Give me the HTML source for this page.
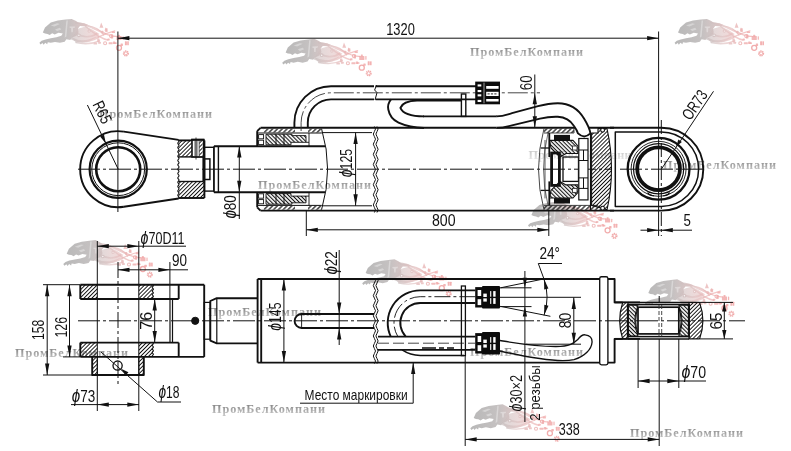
<!DOCTYPE html>
<html lang="ru"><head><meta charset="utf-8"><title>Гидроцилиндр</title>
<style>
html,body{margin:0;padding:0;background:#fff;}
body{width:791px;height:451px;overflow:hidden;}
svg{display:block;}
#wrap{width:791px;height:451px;will-change:transform;transform:translateZ(0);}
.dim{font-family:"Liberation Sans",sans-serif;}
.wm{font-family:"Liberation Serif",serif;font-weight:bold;}
</style></head><body><div id="wrap">
<svg width="791" height="451" viewBox="0 0 791 451">
<defs>
<pattern id="h1" width="2.8" height="2.8" patternUnits="userSpaceOnUse" patternTransform="rotate(-45)"><line x1="0" y1="1.4" x2="2.8" y2="1.4" stroke="#111" stroke-width="0.95"/></pattern>
<pattern id="h2" width="3.4" height="3.4" patternUnits="userSpaceOnUse" patternTransform="rotate(-45)"><line x1="0" y1="1.7" x2="3.4" y2="1.7" stroke="#111" stroke-width="1.2"/></pattern>
<pattern id="h3" width="2.8" height="2.8" patternUnits="userSpaceOnUse" patternTransform="rotate(45)"><line x1="0" y1="1.4" x2="2.8" y2="1.4" stroke="#111" stroke-width="1.1"/></pattern>
<linearGradient id="lg" gradientUnits="userSpaceOnUse" x1="0" y1="0" x2="92" y2="0"><stop offset="0" stop-color="#b2b2b2"/><stop offset="0.3" stop-color="#c0bcbc"/><stop offset="0.55" stop-color="#e2c4c4"/><stop offset="0.8" stop-color="#f0aaaa"/><stop offset="1" stop-color="#f09c9c"/></linearGradient>
<linearGradient id="wg" x1="0" y1="0" x2="0" y2="1"><stop offset="0.25" stop-color="#8c8c8c"/><stop offset="0.85" stop-color="#c4c4c4"/></linearGradient>
<symbol id="logo" overflow="visible"><path d="M3.8,13.5 L6.0,8.5 L11.8,3.5 L18.8,1.5 L26.4,0.6 L32.7,-0.1 L36.6,1.8 L39.9,4.0 L45.2,4.3 L49.4,6.0 L46.6,7.4 L41.0,7.1 L38.9,9.7 L39.6,13.2 L37.6,16.7 L32.7,18.8 L31.3,20.9 L27.4,20.2 L25.7,22.7 L20.9,23.8 L16.0,22.9 L11.8,23.8 L8.8,23.2 L8.2,25.2 L6.3,23.8 L4.6,25.7 L3.5,24.1 L1.5,25.5 L0.4,23.8 L2.6,21.8 L6.5,20.4 L11.8,19.2 L17.4,18.2 L22.3,16.8 L23.8,14.6 L19.5,13.8 L15.7,15.4 L13.2,14.3 L10.7,16.0 L8.5,14.9 L6.0,14.6 Z" fill="url(#lg)" opacity="0.92"/><path d="M11.8,6.5 L18.1,4.3 L20.9,4.9 L15.3,7.6 Z" fill="#fff" opacity="0.35"/><path d="M27.4,1.4 L28.8,1.4 L27.4,17.4 L25.7,18.8 Z" fill="#fff" opacity="0.35"/><path d="M30.6,7.6 L36.2,7.4 L35.7,8.8 L34.1,9.0 L33.8,13.2 L32.4,13.2 L32.1,9.0 L30.6,8.8 Z" fill="#fff" opacity="0.35"/><path d="M16.0,10.4 L20.9,8.8 L22.3,10.4 L18.1,12.1 Z" fill="#fff" opacity="0.35"/><path d="M32.7,18.8 L38.9,9.7 L46.6,7.4 L53.5,10.4 L60.5,14.9 L56.3,18.8 L50.8,22.3 L43.8,23.8 L36.9,23.5 Z" fill="url(#lg)" opacity="0.62"/><path d="M36.9,3.8 C46.6,4.3 56.3,10.4 66.1,14.6" fill="none" stroke="url(#lg)" stroke-width="2.0" stroke-linecap="round" opacity="0.7"/><path d="M66.1,14.6 C70.9,16.7 74.4,17.7 77.9,17.4" fill="none" stroke="url(#lg)" stroke-width="1.3" stroke-linecap="round" opacity="0.7"/><path d="M32.7,19.5 C41.0,24.3 50.8,22.3 59.1,18.1" fill="none" stroke="url(#lg)" stroke-width="2.4" stroke-linecap="round" opacity="0.7"/><path d="M59.1,18.1 C64.7,15.3 70.2,13.2 75.8,11.8" fill="none" stroke="url(#lg)" stroke-width="1.2" stroke-linecap="round" opacity="0.7"/><path d="M38.2,14.6 C43.8,18.8 52.2,18.8 57.7,14.6" fill="none" stroke="url(#lg)" stroke-width="1.6" stroke-linecap="round" opacity="0.7"/><path d="M46.6,7.4 C52.2,11.8 60.5,19.5 68.8,20.9" fill="none" stroke="url(#lg)" stroke-width="1.5" stroke-linecap="round" opacity="0.7"/><path d="M36.9,23.6 C46.6,25.7 54.9,24.3 60.5,21.8" fill="none" stroke="url(#lg)" stroke-width="1.4" stroke-linecap="round" opacity="0.7"/><path d="M49.4,7.0 C56.3,7.6 61.9,11.8 64.7,16.0" fill="none" stroke="url(#lg)" stroke-width="1.2" stroke-linecap="round" opacity="0.7"/><circle cx="39.9" cy="16.3" r="1.3" fill="#fff" stroke="url(#lg)" stroke-width="1.1" opacity="0.85"/><circle cx="50.1" cy="12.1" r="1.1" fill="#fff" stroke="url(#lg)" stroke-width="1.1" opacity="0.85"/><circle cx="72.0" cy="17.1" r="1.5" fill="#fff" stroke="url(#lg)" stroke-width="1.1" opacity="0.85"/><circle cx="66.1" cy="24.3" r="1.5" fill="#fff" stroke="url(#lg)" stroke-width="1.1" opacity="0.85"/><path d="M62.2,3.5 L64.4,8.8 L60.5,8.8 Z" fill="url(#lg)" opacity="0.8"/><path d="M66.8,8.3 L68.3,11.8 L65.5,11.8 Z" fill="url(#lg)" opacity="0.7"/><rect x="62.3" y="11.8" width="2.0" height="2.8" rx="0.5" fill="url(#lg)" opacity="0.8"/><rect x="59.1" y="22.8" width="2.8" height="2.0" rx="0.5" fill="url(#lg)" opacity="0.8"/><rect x="68.3" y="19.4" width="2.4" height="2.0" rx="0.5" fill="url(#lg)" opacity="0.8"/><rect x="66.2" y="9.3" width="2.4" height="3.6" rx="0.5" fill="url(#lg)" opacity="0.8"/><rect x="71.8" y="15.6" width="2.4" height="4.0" rx="0.5" fill="url(#lg)" opacity="0.8"/><rect x="77.4" y="17.0" width="5.2" height="4.0" rx="0.5" fill="url(#lg)" opacity="0.8"/><rect x="83.5" y="17.2" width="1.2" height="3.6" rx="0.5" fill="url(#lg)" opacity="0.8"/><rect x="75.3" y="23.3" width="2.4" height="1.6" rx="0.5" fill="url(#lg)" opacity="0.8"/><rect x="54.5" y="23.6" width="3.6" height="2.0" rx="0.5" fill="url(#lg)" opacity="0.8"/><rect x="58.2" y="19.5" width="2.4" height="3.6" rx="0.5" fill="url(#lg)" opacity="0.8"/><rect x="69.6" y="23.3" width="4.0" height="2.0" rx="0.5" fill="url(#lg)" opacity="0.8"/><rect x="73.9" y="22.6" width="2.4" height="2.4" rx="0.5" fill="url(#lg)" opacity="0.8"/><rect x="72.8" y="12.4" width="3.2" height="1.6" rx="0.5" fill="url(#lg)" opacity="0.8"/><rect x="85.9" y="22.3" width="2.0" height="4.0" rx="0.5" fill="url(#lg)" opacity="0.8"/><rect x="88.2" y="22.3" width="1.6" height="4.0" rx="0.5" fill="url(#lg)" opacity="0.8"/><rect x="81.5" y="24.5" width="2.4" height="2.4" rx="0.5" fill="url(#lg)" opacity="0.8"/><rect x="79.0" y="15.7" width="2.0" height="2.0" rx="0.5" fill="url(#lg)" opacity="0.8"/><circle cx="80.0" cy="28.8" r="2.5" fill="none" stroke="#f0a3a3" stroke-width="1.3" opacity="0.9"/><circle cx="86.9" cy="34.4" r="2.3" fill="none" stroke="#f0a3a3" stroke-width="1.5" stroke-dasharray="1.2 0.6" opacity="0.9"/><circle cx="86.9" cy="34.4" r="1.5" fill="none" stroke="#f0a3a3" stroke-width="0.8" opacity="0.9"/></symbol>
</defs>
<use href="#logo" x="0" y="0" transform="translate(39,19) scale(1.0)" opacity="1.0"/>
<use href="#logo" x="0" y="0" transform="translate(281.8,38.9) scale(1.0)" opacity="1.0"/>
<use href="#logo" x="0" y="0" transform="translate(674.2,19) scale(1.0)" opacity="1.0"/>
<use href="#logo" x="0" y="0" transform="translate(62.9,240.2) scale(1.0)" opacity="1.0"/>
<use href="#logo" x="0" y="0" transform="translate(361.8,259.4) scale(1.0)" opacity="1.0"/>
<use href="#logo" x="0" y="0" transform="translate(644.5,279.4) scale(1.0)" opacity="1.0"/>
<use href="#logo" x="0" y="0" transform="translate(469.9,404.4) scale(1.0)" opacity="1.0"/>
<use href="#logo" x="0" y="0" transform="translate(527.6,201.5) scale(1.0)" opacity="1.0"/>
<text x="99" y="118.2" class="wm" font-size="12.2" fill="url(#wg)" textLength="113" lengthAdjust="spacing" opacity="1">ПромБелКомпани</text>
<text x="470" y="56" class="wm" font-size="12.2" fill="url(#wg)" textLength="113" lengthAdjust="spacing" opacity="1">ПромБелКомпани</text>
<text x="258" y="188.6" class="wm" font-size="12.2" fill="url(#wg)" textLength="113" lengthAdjust="spacing" opacity="1">ПромБелКомпани</text>
<text x="663" y="168.6" class="wm" font-size="12.2" fill="url(#wg)" textLength="113" lengthAdjust="spacing" opacity="1">ПромБелКомпани</text>
<text x="528.5" y="158.5" class="wm" font-size="12.2" fill="url(#wg)" textLength="103" lengthAdjust="spacing" opacity="0.45">ПромБелКомпани</text>
<text x="208" y="316.4" class="wm" font-size="12.2" fill="url(#wg)" textLength="113" lengthAdjust="spacing" opacity="1">ПромБелКомпани</text>
<text x="15" y="357.1" class="wm" font-size="12.2" fill="url(#wg)" textLength="113" lengthAdjust="spacing" opacity="1">ПромБелКомпани</text>
<text x="212" y="413.3" class="wm" font-size="12.2" fill="url(#wg)" textLength="113" lengthAdjust="spacing" opacity="1">ПромБелКомпани</text>
<text x="470" y="355.6" class="wm" font-size="12.2" fill="url(#wg)" textLength="113" lengthAdjust="spacing" opacity="1">ПромБелКомпани</text>
<text x="630" y="437" class="wm" font-size="12.2" fill="url(#wg)" textLength="113" lengthAdjust="spacing" opacity="1">ПромБелКомпани</text>
<line x1="78.00" y1="169.20" x2="612.00" y2="169.20" stroke="#111" stroke-width="1.0" stroke-dasharray="22 3 3 3" stroke-linecap="butt"/>
<path d="M123.88,131.63 A38,38 0 1 0 123.88,206.77" fill="none" stroke="#111" stroke-width="1.9" stroke-linejoin="round" />
<line x1="123.88" y1="131.63" x2="178.60" y2="139.90" stroke="#111" stroke-width="1.9" stroke-linecap="butt"/>
<line x1="123.88" y1="206.77" x2="178.60" y2="198.50" stroke="#111" stroke-width="1.9" stroke-linecap="butt"/>
<circle cx="118.20" cy="169.20" r="28.60" fill="none" stroke="#111" stroke-width="2.2"/>
<circle cx="118.20" cy="169.20" r="26.40" fill="none" stroke="#111" stroke-width="1.0"/>
<circle cx="118.20" cy="169.20" r="22.00" fill="none" stroke="#111" stroke-width="2.6"/>
<path d="M178.40,140.40 L204.40,140.40 L204.40,156.90 L178.40,156.90 Z" fill="url(#h1)" stroke="none"/>
<line x1="178.40" y1="140.40" x2="204.40" y2="140.40" stroke="#111" stroke-width="1.9" stroke-linecap="butt"/>
<line x1="178.40" y1="156.90" x2="203.40" y2="156.90" stroke="#111" stroke-width="1.4" stroke-linecap="butt"/>
<path d="M178.40,198.00 L204.40,198.00 L204.40,181.50 L178.40,181.50 Z" fill="url(#h1)" stroke="none"/>
<line x1="178.40" y1="198.00" x2="204.40" y2="198.00" stroke="#111" stroke-width="1.9" stroke-linecap="butt"/>
<line x1="178.40" y1="181.50" x2="203.40" y2="181.50" stroke="#111" stroke-width="1.4" stroke-linecap="butt"/>
<line x1="204.40" y1="140.40" x2="204.40" y2="198.00" stroke="#111" stroke-width="1.9" stroke-linecap="butt"/>
<line x1="203.20" y1="156.90" x2="203.20" y2="181.50" stroke="#111" stroke-width="1.6" stroke-linecap="butt"/>
<path d="M178.40,139.90 Q179.60,140.99 178.40,142.07 Q177.20,143.16 178.40,144.24 Q179.60,145.33 178.40,146.41 Q177.20,147.50 178.40,148.58 Q179.60,149.67 178.40,150.75 Q177.20,151.84 178.40,152.92 Q179.60,154.01 178.40,155.09 Q177.20,156.18 178.40,157.26 Q179.60,158.35 178.40,159.43 Q177.20,160.52 178.40,161.60 Q179.60,162.69 178.40,163.77 Q177.20,164.86 178.40,165.94 Q179.60,167.03 178.40,168.11 Q177.20,169.20 178.40,170.29 Q179.60,171.37 178.40,172.46 Q177.20,173.54 178.40,174.63 Q179.60,175.71 178.40,176.80 Q177.20,177.88 178.40,178.97 Q179.60,180.05 178.40,181.14 Q177.20,182.22 178.40,183.31 Q179.60,184.39 178.40,185.48 Q177.20,186.56 178.40,187.65 Q179.60,188.73 178.40,189.82 Q177.20,190.90 178.40,191.99 Q179.60,193.07 178.40,194.16 Q177.20,195.24 178.40,196.33 Q179.60,197.41 178.40,198.50" fill="none" stroke="#111" stroke-width="1.1" stroke-linejoin="round" />
<rect x="192.00" y="139.60" width="11.60" height="17.30" fill="#fff" stroke="#111" stroke-width="1.6"/>
<line x1="191.20" y1="139.80" x2="204.40" y2="139.80" stroke="#111" stroke-width="2.0" stroke-linecap="butt"/>
<line x1="195.00" y1="140.00" x2="195.00" y2="156.90" stroke="#333" stroke-width="0.8" stroke-linecap="butt"/>
<line x1="197.00" y1="140.00" x2="197.00" y2="156.90" stroke="#333" stroke-width="0.8" stroke-linecap="butt"/>
<path d="M199.20,140.50 L202.60,140.50 L202.60,156.50 L199.20,156.50 Z" fill="url(#h1)" stroke="none"/>
<line x1="199.20" y1="140.00" x2="199.20" y2="156.90" stroke="#333" stroke-width="0.8" stroke-linecap="butt"/>
<line x1="196.00" y1="137.50" x2="196.00" y2="159.50" stroke="#111" stroke-width="0.8" stroke-linecap="butt"/>
<rect x="204.40" y="158.90" width="5.50" height="20.60" fill="none" stroke="#111" stroke-width="1.5"/>
<rect x="204.40" y="147.30" width="9.50" height="43.80" fill="none" stroke="#111" stroke-width="1.4"/>
<line x1="213.90" y1="146.20" x2="325.00" y2="146.20" stroke="#111" stroke-width="1.9" stroke-linecap="butt"/>
<line x1="213.90" y1="192.20" x2="325.00" y2="192.20" stroke="#111" stroke-width="1.9" stroke-linecap="butt"/>
<line x1="213.90" y1="146.20" x2="213.90" y2="192.20" stroke="#111" stroke-width="1.4" stroke-linecap="butt"/>
<line x1="218.40" y1="146.20" x2="218.40" y2="192.20" stroke="#111" stroke-width="1.4" stroke-linecap="butt"/>
<line x1="257.20" y1="131.10" x2="257.20" y2="146.20" stroke="#111" stroke-width="1.9" stroke-linecap="butt"/>
<line x1="257.20" y1="131.10" x2="260.50" y2="127.80" stroke="#111" stroke-width="1.9" stroke-linecap="butt"/>
<path d="M263.80,128.70 L295.00,128.70 L295.00,132.50 L263.80,132.50 Z" fill="url(#h2)" stroke="none"/>
<path d="M308.00,128.70 L321.50,128.70 L321.50,132.50 L308.00,132.50 Z" fill="url(#h2)" stroke="none"/>
<line x1="258.00" y1="133.00" x2="321.80" y2="133.00" stroke="#111" stroke-width="1.0" stroke-linecap="butt"/>
<path d="M266.00,134.20 L292.00,134.20 L292.00,135.60 L306.00,135.60 L306.00,142.30 L291.00,142.30 L291.00,144.80 L266.00,144.80 Z" fill="url(#h3)" stroke="none"/>
<path d="M266.00,134.20 L292.00,134.20 L292.00,135.60 L306.00,135.60 L306.00,142.30 L291.00,142.30 L291.00,144.80 L266.00,144.80 Z" fill="none" stroke="#111" stroke-width="0.9" stroke-linejoin="round" />
<line x1="276.00" y1="134.20" x2="276.00" y2="144.80" stroke="#111" stroke-width="0.9" stroke-linecap="butt"/>
<line x1="284.00" y1="134.20" x2="284.00" y2="144.80" stroke="#111" stroke-width="0.9" stroke-linecap="butt"/>
<rect x="258.60" y="134.60" width="5.00" height="4.20" fill="none" stroke="#111" stroke-width="0.9"/>
<rect x="258.60" y="140.20" width="5.00" height="4.40" fill="none" stroke="#111" stroke-width="0.9"/>
<line x1="306.00" y1="142.30" x2="309.00" y2="142.30" stroke="#111" stroke-width="0.9" stroke-linecap="butt"/>
<line x1="309.00" y1="133.00" x2="309.00" y2="146.20" stroke="#111" stroke-width="0.9" stroke-linecap="butt"/>
<line x1="260.50" y1="127.80" x2="614.00" y2="127.80" stroke="#111" stroke-width="1.9" stroke-linecap="butt"/>
<line x1="257.20" y1="207.30" x2="257.20" y2="192.20" stroke="#111" stroke-width="1.9" stroke-linecap="butt"/>
<line x1="257.20" y1="207.30" x2="260.50" y2="210.60" stroke="#111" stroke-width="1.9" stroke-linecap="butt"/>
<path d="M263.80,209.70 L295.00,209.70 L295.00,205.90 L263.80,205.90 Z" fill="url(#h2)" stroke="none"/>
<path d="M308.00,209.70 L321.50,209.70 L321.50,205.90 L308.00,205.90 Z" fill="url(#h2)" stroke="none"/>
<line x1="258.00" y1="205.40" x2="321.80" y2="205.40" stroke="#111" stroke-width="1.0" stroke-linecap="butt"/>
<path d="M266.00,204.20 L292.00,204.20 L292.00,202.80 L306.00,202.80 L306.00,196.10 L291.00,196.10 L291.00,193.60 L266.00,193.60 Z" fill="url(#h3)" stroke="none"/>
<path d="M266.00,204.20 L292.00,204.20 L292.00,202.80 L306.00,202.80 L306.00,196.10 L291.00,196.10 L291.00,193.60 L266.00,193.60 Z" fill="none" stroke="#111" stroke-width="0.9" stroke-linejoin="round" />
<line x1="276.00" y1="204.20" x2="276.00" y2="193.60" stroke="#111" stroke-width="0.9" stroke-linecap="butt"/>
<line x1="284.00" y1="204.20" x2="284.00" y2="193.60" stroke="#111" stroke-width="0.9" stroke-linecap="butt"/>
<rect x="258.60" y="199.60" width="5.00" height="4.20" fill="none" stroke="#111" stroke-width="0.9"/>
<rect x="258.60" y="193.80" width="5.00" height="4.40" fill="none" stroke="#111" stroke-width="0.9"/>
<line x1="306.00" y1="196.10" x2="309.00" y2="196.10" stroke="#111" stroke-width="0.9" stroke-linecap="butt"/>
<line x1="309.00" y1="205.40" x2="309.00" y2="192.20" stroke="#111" stroke-width="0.9" stroke-linecap="butt"/>
<line x1="260.50" y1="210.60" x2="614.00" y2="210.60" stroke="#111" stroke-width="1.9" stroke-linecap="butt"/>
<path d="M321.6,128.8 Q333.6,169.2 321.6,209.59999999999997" fill="none" stroke="#111" stroke-width="1.0" stroke-linejoin="round" />
<path d="M374.40,126.50 Q376.60,129.03 374.40,131.56 Q372.20,134.09 374.40,136.62 Q376.60,139.15 374.40,141.68 Q372.20,144.21 374.40,146.74 Q376.60,149.26 374.40,151.79 Q372.20,154.32 374.40,156.85 Q376.60,159.38 374.40,161.91 Q372.20,164.44 374.40,166.97 Q376.60,169.50 374.40,172.03 Q372.20,174.56 374.40,177.09 Q376.60,179.62 374.40,182.15 Q372.20,184.68 374.40,187.21 Q376.60,189.74 374.40,192.26 Q372.20,194.79 374.40,197.32 Q376.60,199.85 374.40,202.38 Q372.20,204.91 374.40,207.44 Q376.60,209.97 374.40,212.50" fill="none" stroke="#111" stroke-width="1.0" stroke-linejoin="round" />
<path d="M377.00,126.50 Q379.20,129.03 377.00,131.56 Q374.80,134.09 377.00,136.62 Q379.20,139.15 377.00,141.68 Q374.80,144.21 377.00,146.74 Q379.20,149.26 377.00,151.79 Q374.80,154.32 377.00,156.85 Q379.20,159.38 377.00,161.91 Q374.80,164.44 377.00,166.97 Q379.20,169.50 377.00,172.03 Q374.80,174.56 377.00,177.09 Q379.20,179.62 377.00,182.15 Q374.80,184.68 377.00,187.21 Q379.20,189.74 377.00,192.26 Q374.80,194.79 377.00,197.32 Q379.20,199.85 377.00,202.38 Q374.80,204.91 377.00,207.44 Q379.20,209.97 377.00,212.50" fill="none" stroke="#111" stroke-width="1.0" stroke-linejoin="round" />
<path d="M376.6,85.2 L374.6,90 L377,92.6 L375,100" fill="none" stroke="#111" stroke-width="1.0" stroke-linejoin="round" />
<path d="M294.4,127.8 L294.4,122.80 A36.60,36.60 0 0 1 331,86.2 L374,86.2" fill="none" stroke="#111" stroke-width="1.9" stroke-linejoin="round" />
<path d="M307.8,127.8 L307.8,122.60 A23.20,23.20 0 0 1 331,99.4 L374,99.4" fill="none" stroke="#111" stroke-width="1.9" stroke-linejoin="round" />
<path d="M301.1,131 L301.1,122.70 A29.90,29.90 0 0 1 331,92.80 L540,92.80" fill="none" stroke="#333" stroke-width="0.9" stroke-dasharray="20 3 3 3" stroke-linejoin="round" />
<line x1="375.50" y1="86.20" x2="476.00" y2="86.20" stroke="#111" stroke-width="1.9" stroke-linecap="butt"/>
<line x1="375.50" y1="99.40" x2="476.00" y2="99.40" stroke="#111" stroke-width="1.9" stroke-linecap="butt"/>
<rect x="475.2" y="81.6" width="24.8" height="22.7" fill="#0c0c0c"/>
<rect x="477.6" y="84.4" width="3.7" height="2.1" fill="#fff"/>
<rect x="477.6" y="90" width="3.7" height="2.1" fill="#fff"/>
<rect x="477.6" y="94.3" width="3.7" height="2.1" fill="#fff"/>
<rect x="477.6" y="99.9" width="3.7" height="2.1" fill="#fff"/>
<rect x="483.2" y="82.6" width="1.6" height="20.7" fill="#666"/>
<rect x="486.2" y="86" width="12.4" height="2.8" fill="#fff"/>
<rect x="486.2" y="91.8" width="12.4" height="4.2" fill="#fff"/>
<rect x="486.2" y="99" width="12.4" height="2.5" fill="#fff"/>
<line x1="487.50" y1="93.90" x2="497.50" y2="93.90" stroke="#111" stroke-width="0.9" stroke-dasharray="2.2 1.2" stroke-linecap="butt"/>
<path d="M391,99.3 C388,103 387.6,106 388.3,109.5 C389.5,116 393,120 398.5,122.6 C406,126 414,127.8 424,128" fill="none" stroke="#111" stroke-width="1.9" stroke-linejoin="round" />
<path d="M461.4,100.5 L417,100.5 C408,100.8 402,103.5 400.4,107.8 C402.5,113 410,116.2 424,116.4" fill="none" stroke="#111" stroke-width="1.9" stroke-linejoin="round" />
<line x1="423.00" y1="116.40" x2="497.00" y2="116.40" stroke="#111" stroke-width="1.9" stroke-linecap="butt"/>
<rect x="461.40" y="94.00" width="4.40" height="22.40" fill="none" stroke="#111" stroke-width="1.4"/>
<path d="M544,128.5 Q533,169.2 544,209.89999999999998" fill="none" stroke="#333" stroke-width="0.9" stroke-linejoin="round" />
<path d="M548,133 Q539,169.2 548,205.39999999999998" fill="none" stroke="#333" stroke-width="0.7" stroke-linejoin="round" />
<path d="M544.00,128.50 L574.00,128.50 L574.00,133.00 L544.00,133.00 Z" fill="url(#h2)" stroke="none"/>
<line x1="544.00" y1="133.00" x2="574.00" y2="133.00" stroke="#333" stroke-width="0.9" stroke-linecap="butt"/>
<line x1="574.00" y1="128.00" x2="574.00" y2="133.00" stroke="#333" stroke-width="0.9" stroke-linecap="butt"/>
<rect x="554" y="134.90" width="16" height="5.4" fill="#111"/>
<path d="M549.50,140.40 L573.00,140.40 L578.00,146.00 L578.00,153.50 L566.00,153.50 L560.00,157.00 L551.00,148.00 Z" fill="url(#h3)" stroke="none"/>
<path d="M549.50,140.40 L573.00,140.40 L578.00,146.00 L578.00,153.50 L566.00,153.50 L560.00,157.00 L551.00,148.00 Z" fill="none" stroke="#111" stroke-width="1.1" stroke-linejoin="round" />
<rect x="572.50" y="146.00" width="4.50" height="4.00" fill="#fff" stroke="#333" stroke-width="0.9"/>
<line x1="549.30" y1="133.00" x2="549.30" y2="157.00" stroke="#111" stroke-width="1.8" stroke-linecap="butt"/>
<line x1="540.60" y1="148.00" x2="549.00" y2="148.00" stroke="#111" stroke-width="1.3" stroke-linecap="butt"/>
<path d="M544.00,209.90 L574.00,209.90 L574.00,205.40 L544.00,205.40 Z" fill="url(#h2)" stroke="none"/>
<line x1="544.00" y1="205.40" x2="574.00" y2="205.40" stroke="#333" stroke-width="0.9" stroke-linecap="butt"/>
<line x1="574.00" y1="210.40" x2="574.00" y2="205.40" stroke="#333" stroke-width="0.9" stroke-linecap="butt"/>
<rect x="554" y="198.10" width="16" height="5.4" fill="#111"/>
<path d="M549.50,198.00 L573.00,198.00 L578.00,192.40 L578.00,184.90 L566.00,184.90 L560.00,181.40 L551.00,190.40 Z" fill="url(#h3)" stroke="none"/>
<path d="M549.50,198.00 L573.00,198.00 L578.00,192.40 L578.00,184.90 L566.00,184.90 L560.00,181.40 L551.00,190.40 Z" fill="none" stroke="#111" stroke-width="1.1" stroke-linejoin="round" />
<rect x="572.50" y="188.40" width="4.50" height="4.00" fill="#fff" stroke="#333" stroke-width="0.9"/>
<line x1="549.30" y1="205.40" x2="549.30" y2="181.40" stroke="#111" stroke-width="1.8" stroke-linecap="butt"/>
<line x1="540.60" y1="190.40" x2="549.00" y2="190.40" stroke="#111" stroke-width="1.3" stroke-linecap="butt"/>
<path d="M574.00,209.90 L602.00,209.90 L602.00,205.40 L574.00,205.40 Z" fill="url(#h2)" stroke="none"/>
<line x1="574.00" y1="205.40" x2="598.00" y2="205.40" stroke="#333" stroke-width="0.9" stroke-linecap="butt"/>
<rect x="551.60" y="153.00" width="7.80" height="32.40" fill="none" stroke="#111" stroke-width="2.8"/>
<rect x="563.00" y="157.00" width="15.50" height="24.40" fill="none" stroke="#111" stroke-width="1.3"/>
<line x1="545.00" y1="140.00" x2="545.00" y2="198.40" stroke="#333" stroke-width="0.8" stroke-linecap="butt"/>
<rect x="578.80" y="138.50" width="9.20" height="61.40" fill="#fff" stroke="#111" stroke-width="1.2"/>
<line x1="578.80" y1="150.00" x2="588.00" y2="150.00" stroke="#111" stroke-width="1.0" stroke-linecap="butt"/>
<line x1="578.80" y1="160.50" x2="588.00" y2="160.50" stroke="#111" stroke-width="1.0" stroke-linecap="butt"/>
<line x1="578.80" y1="177.90" x2="588.00" y2="177.90" stroke="#111" stroke-width="1.0" stroke-linecap="butt"/>
<line x1="578.80" y1="188.40" x2="588.00" y2="188.40" stroke="#111" stroke-width="1.0" stroke-linecap="butt"/>
<line x1="583.50" y1="150.00" x2="583.50" y2="160.50" stroke="#111" stroke-width="1" stroke-linecap="butt"/>
<line x1="583.50" y1="177.90" x2="583.50" y2="188.40" stroke="#111" stroke-width="1" stroke-linecap="butt"/>
<line x1="590.50" y1="133.00" x2="590.50" y2="209.90" stroke="#111" stroke-width="1.1" stroke-linecap="butt"/>
<path d="M591.6,133 L591.6,205.39999999999998 L607,209.79999999999998 Q616,169.2 607,128.6 L598,128.6 L598,133 Z" fill="url(#h1)" stroke="none"/>
<path d="M591.6,133 L591.6,205.39999999999998 L607,209.79999999999998 Q616,169.2 607,128.6 L598,128.6 L598,133 Z" fill="none" stroke="#111" stroke-width="1.1" stroke-linejoin="round" />
<circle cx="602.60" cy="130.20" r="1.90" fill="#fff" stroke="#111" stroke-width="1.1"/>
<circle cx="602.60" cy="208.20" r="1.90" fill="#fff" stroke="#111" stroke-width="1.1"/>
<path d="M496.5,116.4 C503,116.4 506,115 512,113.2 L538,106.2 C546,104 551,103.2 557.8,103.2 C570,103.4 579,110 584,118.5 C588,125 589.8,129 590.4,133.4 Q584.2,139 578,133.4 C577.5,131.5 576.5,129.5 574,126 C570.5,120.5 565,117.2 557.8,116.8 C552,116.6 547,117 540,118.6 L512,125.4 C506,127 503,127.8 496.5,127.8 Z" fill="#fff" stroke="none"/>
<path d="M496.5,116.4 C503,116.4 506,115 512,113.2 L538,106.2 C546,104 551,103.2 557.8,103.2 C570,103.4 579,110 584,118.5 C588,125 589.8,129 590.4,133.4 Q584.2,139.4 578,133.4 C577.5,131.5 576.5,129.5 574,126 C570.5,120.5 565,117.2 557.8,116.8 C552,116.6 547,117 540,118.6 L512,125.4 C506,127 503,127.8 496.5,127.8" fill="none" stroke="#111" stroke-width="1.9" stroke-linejoin="round" />
<path d="M610,127.8 L661.3,127.8 A42.0,41.4 0 0 1 661.3,210.59999999999997 L610,210.59999999999997" fill="none" stroke="#111" stroke-width="1.9" stroke-linejoin="round" />
<path d="M661.3,131.89999999999998 L615.3,131.89999999999998 L615.3,206.5 L661.3,206.5 A37.3,37.3 0 0 0 661.3,131.89999999999998" fill="none" stroke="#111" stroke-width="1.5" stroke-linejoin="round" />
<circle cx="658.60" cy="168.80" r="30.90" fill="none" stroke="#111" stroke-width="2.3"/>
<circle cx="658.60" cy="168.80" r="27.50" fill="none" stroke="#111" stroke-width="0.9"/>
<circle cx="658.60" cy="168.80" r="25.10" fill="none" stroke="#111" stroke-width="1.2"/>
<circle cx="658.60" cy="168.80" r="21.40" fill="none" stroke="#111" stroke-width="3.8"/>
<path d="M647.5,192.6 Q650,196.2 654,195.6 M669.7,192.6 Q667.2,196.2 663.2,195.6" fill="none" stroke="#111" stroke-width="1.1" stroke-linejoin="round" />
<line x1="658.60" y1="31.50" x2="658.60" y2="236.00" stroke="#111" stroke-width="1.0" stroke-linecap="butt"/>
<line x1="661.30" y1="120.00" x2="661.30" y2="236.00" stroke="#111" stroke-width="1.0" stroke-dasharray="14 3 3 3" stroke-linecap="butt"/>
<line x1="620.00" y1="169.20" x2="705.00" y2="169.20" stroke="#111" stroke-width="1.0" stroke-dasharray="22 3 3 3" stroke-linecap="butt"/>
<line x1="78.00" y1="320.80" x2="745.00" y2="320.80" stroke="#111" stroke-width="1.0" stroke-dasharray="22 3 3 3" stroke-linecap="butt"/>
<path d="M80.30,284.70 L97.30,284.70 L97.30,299.00 L80.30,299.00 Z" fill="url(#h1)" stroke="none"/>
<path d="M138.80,284.70 L152.60,284.70 L152.60,299.00 L138.80,299.00 Z" fill="url(#h1)" stroke="none"/>
<line x1="80.30" y1="284.70" x2="204.20" y2="284.70" stroke="#111" stroke-width="1.9" stroke-linecap="butt"/>
<line x1="80.30" y1="299.00" x2="178.70" y2="299.00" stroke="#111" stroke-width="1.9" stroke-linecap="butt"/>
<line x1="80.30" y1="284.70" x2="80.30" y2="299.00" stroke="#111" stroke-width="1.9" stroke-linecap="butt"/>
<line x1="178.70" y1="284.70" x2="178.70" y2="299.00" stroke="#111" stroke-width="1.9" stroke-linecap="butt"/>
<path d="M80.30,356.90 L97.30,356.90 L97.30,342.60 L80.30,342.60 Z" fill="url(#h1)" stroke="none"/>
<path d="M138.80,356.90 L152.60,356.90 L152.60,342.60 L138.80,342.60 Z" fill="url(#h1)" stroke="none"/>
<line x1="80.30" y1="356.90" x2="204.20" y2="356.90" stroke="#111" stroke-width="1.9" stroke-linecap="butt"/>
<line x1="80.30" y1="342.60" x2="178.70" y2="342.60" stroke="#111" stroke-width="1.9" stroke-linecap="butt"/>
<line x1="80.30" y1="356.90" x2="80.30" y2="342.60" stroke="#111" stroke-width="1.9" stroke-linecap="butt"/>
<line x1="178.70" y1="356.90" x2="178.70" y2="342.60" stroke="#111" stroke-width="1.9" stroke-linecap="butt"/>
<path d="M152.80,284.70 Q154.00,285.59 152.80,286.49 Q151.60,287.38 152.80,288.28 Q154.00,289.17 152.80,290.06 Q151.60,290.96 152.80,291.85 Q154.00,292.74 152.80,293.64 Q151.60,294.53 152.80,295.43 Q154.00,296.32 152.80,297.21 Q151.60,298.11 152.80,299.00" fill="none" stroke="#111" stroke-width="1.1" stroke-linejoin="round" />
<path d="M152.80,342.60 Q154.00,343.49 152.80,344.39 Q151.60,345.28 152.80,346.18 Q154.00,347.07 152.80,347.96 Q151.60,348.86 152.80,349.75 Q154.00,350.64 152.80,351.54 Q151.60,352.43 152.80,353.33 Q154.00,354.22 152.80,355.11 Q151.60,356.01 152.80,356.90" fill="none" stroke="#111" stroke-width="1.1" stroke-linejoin="round" />
<line x1="204.20" y1="284.70" x2="204.20" y2="356.90" stroke="#111" stroke-width="1.9" stroke-linecap="butt"/>
<line x1="170.00" y1="299.00" x2="170.00" y2="342.60" stroke="#111" stroke-width="1.2" stroke-linecap="butt"/>
<line x1="172.50" y1="299.00" x2="172.50" y2="342.60" stroke="#111" stroke-width="1.2" stroke-linecap="butt"/>
<path d="M92.20,356.90 L97.30,356.90 L97.30,375.00 L92.20,375.00 Z" fill="url(#h1)" stroke="none"/>
<path d="M138.80,356.90 L143.80,356.90 L143.80,375.00 L138.80,375.00 Z" fill="url(#h1)" stroke="none"/>
<path d="M92.20,356.90 L92.20,375.00 L143.80,375.00 L143.80,356.90" fill="none" stroke="#111" stroke-width="1.9" stroke-linejoin="round" />
<line x1="97.30" y1="356.90" x2="97.30" y2="375.00" stroke="#111" stroke-width="1.0" stroke-linecap="butt"/>
<line x1="138.80" y1="356.90" x2="138.80" y2="375.00" stroke="#111" stroke-width="1.0" stroke-linecap="butt"/>
<circle cx="117.60" cy="365.60" r="4.60" fill="none" stroke="#111" stroke-width="1.3"/>
<circle cx="195.20" cy="320.80" r="3.60" fill="#111" stroke="#111" stroke-width="1"/>
<rect x="204.20" y="302.40" width="6.10" height="36.80" fill="none" stroke="#111" stroke-width="1.2"/>
<path d="M257.60,298.20 L216.80,298.20 L210.30,301.00 L210.30,340.60 L216.80,343.40 L257.60,343.40" fill="none" stroke="#111" stroke-width="1.9" stroke-linejoin="round" />
<line x1="216.80" y1="298.20" x2="216.80" y2="343.40" stroke="#111" stroke-width="1.2" stroke-linecap="butt"/>
<line x1="257.60" y1="279.00" x2="600.00" y2="279.00" stroke="#111" stroke-width="1.9" stroke-linecap="butt"/>
<line x1="257.60" y1="362.60" x2="600.00" y2="362.60" stroke="#111" stroke-width="1.9" stroke-linecap="butt"/>
<line x1="257.60" y1="279.00" x2="257.60" y2="362.60" stroke="#111" stroke-width="1.9" stroke-linecap="butt"/>
<line x1="261.20" y1="279.00" x2="261.20" y2="362.60" stroke="#111" stroke-width="1.9" stroke-linecap="butt"/>
<path d="M374.40,278.00 Q376.60,280.52 374.40,283.04 Q372.20,285.55 374.40,288.07 Q376.60,290.59 374.40,293.11 Q372.20,295.62 374.40,298.14 Q376.60,300.66 374.40,303.18 Q372.20,305.69 374.40,308.21 Q376.60,310.73 374.40,313.25 Q372.20,315.76 374.40,318.28 Q376.60,320.80 374.40,323.32 Q372.20,325.84 374.40,328.35 Q376.60,330.87 374.40,333.39 Q372.20,335.91 374.40,338.42 Q376.60,340.94 374.40,343.46 Q372.20,345.98 374.40,348.49 Q376.60,351.01 374.40,353.53 Q372.20,356.05 374.40,358.56 Q376.60,361.08 374.40,363.60" fill="none" stroke="#111" stroke-width="1.0" stroke-linejoin="round" />
<path d="M377.00,278.00 Q379.20,280.52 377.00,283.04 Q374.80,285.55 377.00,288.07 Q379.20,290.59 377.00,293.11 Q374.80,295.62 377.00,298.14 Q379.20,300.66 377.00,303.18 Q374.80,305.69 377.00,308.21 Q379.20,310.73 377.00,313.25 Q374.80,315.76 377.00,318.28 Q379.20,320.80 377.00,323.32 Q374.80,325.84 377.00,328.35 Q379.20,330.87 377.00,333.39 Q374.80,335.91 377.00,338.42 Q379.20,340.94 377.00,343.46 Q374.80,345.98 377.00,348.49 Q379.20,351.01 377.00,353.53 Q374.80,356.05 377.00,358.56 Q379.20,361.08 377.00,363.60" fill="none" stroke="#111" stroke-width="1.0" stroke-linejoin="round" />
<path d="M374,314 L301.6,314 A7,7 0 0 0 301.6,328 L374,328" fill="none" stroke="#111" stroke-width="1.9" stroke-linejoin="round" />
<line x1="301.60" y1="314.00" x2="301.60" y2="328.00" stroke="#111" stroke-width="0.9" stroke-linecap="butt"/>
<path d="M475.4,290.4 L420.2,290.4 A32.50,32.50 0 0 0 390.73,336.6" fill="none" stroke="#111" stroke-width="1.9" stroke-linejoin="round" />
<path d="M475.4,303.0 L420.2,303.0 A19.90,19.90 0 0 0 405.77,336.6" fill="none" stroke="#111" stroke-width="1.9" stroke-linejoin="round" />
<path d="M475.4,296.70 L420.2,296.70 A26.20,26.20 0 0 0 397.87,336.6" fill="none" stroke="#222" stroke-width="1.0" stroke-dasharray="16 3 3 3" stroke-linejoin="round" />
<path d="M402.11,349.9 A32.50,32.50 0 0 0 420.2,355.40 L464,355.40" fill="none" stroke="#111" stroke-width="1.5" stroke-linejoin="round" />
<line x1="378.00" y1="336.60" x2="475.40" y2="336.60" stroke="#111" stroke-width="1.9" stroke-linecap="butt"/>
<line x1="378.00" y1="349.90" x2="475.40" y2="349.90" stroke="#111" stroke-width="1.9" stroke-linecap="butt"/>
<line x1="378.00" y1="343.20" x2="475.00" y2="343.20" stroke="#333" stroke-width="0.9" stroke-dasharray="11 4" stroke-linecap="butt"/>
<line x1="422.00" y1="348.00" x2="454.00" y2="348.00" stroke="#111" stroke-width="1.4" stroke-dasharray="14 3 5 3" stroke-linecap="butt"/>
<rect x="461.40" y="286.00" width="4.00" height="69.60" fill="none" stroke="#111" stroke-width="1.3"/>
<rect x="475.2" y="287.10" width="7" height="20.4" fill="#0c0c0c"/>
<rect x="482" y="286.00" width="18" height="22.6" rx="1" fill="#0c0c0c"/>
<rect x="477.6" y="290.00" width="3.6" height="6.0" fill="#fff"/>
<rect x="477.6" y="299.20" width="3.6" height="5.9" fill="#fff"/>
<rect x="483.3" y="293.60" width="3.5" height="3.4" fill="#fff"/>
<rect x="483.3" y="298.40" width="3.5" height="3.2" fill="#fff"/>
<rect x="490" y="291.10" width="1.3" height="5.6" fill="#ddd"/>
<rect x="493.2" y="291.10" width="2.4" height="5.6" fill="#fff"/>
<rect x="490" y="298.10" width="1.3" height="5.8" fill="#ddd"/>
<rect x="493.2" y="298.10" width="2.4" height="5.8" fill="#fff"/>
<rect x="475.2" y="333.10" width="7" height="20.4" fill="#0c0c0c"/>
<rect x="482" y="332.00" width="18" height="22.6" rx="1" fill="#0c0c0c"/>
<rect x="477.6" y="336.00" width="3.6" height="6.0" fill="#fff"/>
<rect x="477.6" y="345.20" width="3.6" height="5.9" fill="#fff"/>
<rect x="483.3" y="339.60" width="3.5" height="3.4" fill="#fff"/>
<rect x="483.3" y="344.40" width="3.5" height="3.2" fill="#fff"/>
<rect x="490" y="337.10" width="1.3" height="5.6" fill="#ddd"/>
<rect x="493.2" y="337.10" width="2.4" height="5.6" fill="#fff"/>
<rect x="490" y="344.10" width="1.3" height="5.8" fill="#ddd"/>
<rect x="493.2" y="344.10" width="2.4" height="5.8" fill="#fff"/>
<path d="M499.9,340.5 C515,343 535,346.6 556,346.5 C570,346.4 574,343 577.5,339.8 C580,336.5 582,334.6 585,334.8 C590,335.2 592.4,338 592,342.5 C591.5,349 585,356.5 574,359.6 C560,362.6 535,359 499.9,351" fill="none" stroke="#111" stroke-width="1.35" stroke-linejoin="round" />
<path d="M601.5,276.7 Q599.7,276.7 599.7,278.5 L599.7,363.1 Q599.7,364.9 601.5,364.9 L606.1,364.9 Q607.9,364.9 607.9,363.1 L607.9,278.5 Q607.9,276.7 606.1,276.7 Z" fill="none" stroke="#111" stroke-width="1.35" stroke-linejoin="round" />
<path d="M607.90,279.00 L614.60,279.00 L614.60,302.40 L640.00,302.40" fill="none" stroke="#111" stroke-width="1.9" stroke-linejoin="round" />
<path d="M607.90,362.60 L614.60,362.60 L614.60,338.90 L640.00,338.90" fill="none" stroke="#111" stroke-width="1.9" stroke-linejoin="round" />
<path d="M628,302.4 L622.7,302.4 Q616.7,320.8 622.7,338.9 L628,338.9 Z" fill="url(#h1)" stroke="none"/>
<path d="M689,302.4 L699.6,302.4 Q706.1,320.8 699.6,338.9 L689,338.9 Z" fill="url(#h1)" stroke="none"/>
<path d="M628,302.4 L622.7,302.4 Q616.7,320.8 622.7,338.9 L628,338.9 Z" fill="none" stroke="#111" stroke-width="1.2" stroke-linejoin="round" />
<path d="M689,302.4 L699.6,302.4 Q706.1,320.8 699.6,338.9 L689,338.9 Z" fill="none" stroke="#111" stroke-width="1.2" stroke-linejoin="round" />
<line x1="628.00" y1="302.40" x2="689.00" y2="302.40" stroke="#111" stroke-width="1.5" stroke-linecap="butt"/>
<line x1="628.00" y1="338.90" x2="689.00" y2="338.90" stroke="#111" stroke-width="1.5" stroke-linecap="butt"/>
<line x1="614.60" y1="302.40" x2="622.70" y2="302.40" stroke="#111" stroke-width="1.9" stroke-linecap="butt"/>
<line x1="614.60" y1="338.90" x2="622.70" y2="338.90" stroke="#111" stroke-width="1.9" stroke-linecap="butt"/>
<rect x="627.60" y="304.60" width="61.60" height="32.00" fill="none" stroke="#111" stroke-width="1.5"/>
<path d="M628.4,305.2 L638,305.2 Q631.5,320.65 638,336 L628.4,336 Z" fill="url(#h3)" stroke="none"/>
<path d="M688.4,305.2 L678.8,305.2 Q685.3,320.65 678.8,336 L688.4,336 Z" fill="url(#h3)" stroke="none"/>
<path d="M628.4,305.2 L638,305.2 Q631.5,320.65 638,336 L628.4,336 Z" fill="none" stroke="#111" stroke-width="1.0" stroke-linejoin="round" />
<path d="M688.4,305.2 L678.8,305.2 Q685.3,320.65 678.8,336 L688.4,336 Z" fill="none" stroke="#111" stroke-width="1.0" stroke-linejoin="round" />
<path d="M638,307.2 Q633.4,320.65 638,333.9" fill="none" stroke="#111" stroke-width="1.1" stroke-linejoin="round" />
<path d="M678.8,307.2 Q683.4,320.65 678.8,333.9" fill="none" stroke="#111" stroke-width="1.1" stroke-linejoin="round" />
<rect x="638.00" y="307.20" width="40.80" height="26.70" fill="none" stroke="#111" stroke-width="1.7"/>
<line x1="659.20" y1="296.00" x2="659.20" y2="302.00" stroke="#111" stroke-width="1.0" stroke-linecap="butt"/>
<line x1="659.20" y1="339.00" x2="659.20" y2="446.00" stroke="#111" stroke-width="1.0" stroke-linecap="butt"/>
<line x1="659.00" y1="305.00" x2="659.00" y2="336.50" stroke="#333" stroke-width="0.9" stroke-dasharray="4 2" stroke-linecap="butt"/>
<line x1="661.70" y1="305.00" x2="661.70" y2="336.50" stroke="#333" stroke-width="0.9" stroke-dasharray="4 2" stroke-linecap="butt"/>
<line x1="117.90" y1="31.50" x2="117.90" y2="212.00" stroke="#111" stroke-width="1.0" stroke-linecap="butt"/>
<line x1="117.90" y1="38.20" x2="658.60" y2="38.20" stroke="#111" stroke-width="1.0" stroke-linecap="butt"/>
<polygon points="117.90,38.20 129.40,36.05 129.40,40.35" fill="#111"/>
<polygon points="658.60,38.20 647.10,40.35 647.10,36.05" fill="#111"/>
<text transform="translate(386.20,34.70) rotate(0)" font-size="16.4" text-anchor="start" fill="#111" class="dim" textLength="28.6" lengthAdjust="spacingAndGlyphs" >1320</text>
<line x1="87.40" y1="105.00" x2="118.20" y2="169.20" stroke="#111" stroke-width="1.0" stroke-linecap="butt"/>
<polygon points="105.96,143.68 100.13,136.50 104.00,134.64" fill="#111"/>
<text transform="translate(92.20,104.20) rotate(64.37060073474046)" font-size="16.4" text-anchor="start" fill="#111" class="dim" textLength="23" lengthAdjust="spacingAndGlyphs" >R65</text>
<line x1="713.50" y1="91.30" x2="679.00" y2="143.00" stroke="#111" stroke-width="1.0" stroke-linecap="butt"/>
<line x1="679.00" y1="143.00" x2="661.30" y2="169.20" stroke="#111" stroke-width="1.0" stroke-linecap="butt"/>
<polygon points="676.20,146.50 678.33,139.49 681.90,141.90" fill="#111"/>
<text transform="translate(690.20,121.30) rotate(-55.5)" font-size="16.4" text-anchor="start" fill="#111" class="dim" textLength="32" lengthAdjust="spacingAndGlyphs" >OR73</text>
<line x1="239.30" y1="146.10" x2="239.30" y2="219.00" stroke="#111" stroke-width="1.0" stroke-linecap="butt"/>
<polygon points="239.30,146.10 241.45,157.60 237.15,157.60" fill="#111"/>
<polygon points="239.30,192.30 237.15,180.80 241.45,180.80" fill="#111"/>
<text transform="translate(236.00,218.60) rotate(-90)" font-size="16.4" text-anchor="start" fill="#111" class="dim" textLength="23.4" lengthAdjust="spacingAndGlyphs" ><tspan font-style="italic" font-size="18.5">ϕ</tspan>80</text>
<line x1="322.00" y1="132.60" x2="372.00" y2="132.60" stroke="#111" stroke-width="1.0" stroke-linecap="butt"/>
<line x1="322.00" y1="205.80" x2="372.00" y2="205.80" stroke="#111" stroke-width="1.0" stroke-linecap="butt"/>
<line x1="355.60" y1="132.60" x2="355.60" y2="205.80" stroke="#111" stroke-width="1.0" stroke-linecap="butt"/>
<polygon points="355.60,132.60 357.75,144.10 353.45,144.10" fill="#111"/>
<polygon points="355.60,205.80 353.45,194.30 357.75,194.30" fill="#111"/>
<text transform="translate(352.20,177.20) rotate(-90)" font-size="16.4" text-anchor="start" fill="#111" class="dim" textLength="28.4" lengthAdjust="spacingAndGlyphs" ><tspan font-style="italic" font-size="18.5">ϕ</tspan>125</text>
<line x1="534.80" y1="74.50" x2="534.80" y2="127.80" stroke="#111" stroke-width="1.0" stroke-linecap="butt"/>
<polygon points="534.80,92.80 536.95,104.30 532.65,104.30" fill="#111"/>
<polygon points="534.80,127.80 532.65,116.30 536.95,116.30" fill="#111"/>
<text transform="translate(532.00,90.20) rotate(-90)" font-size="16.4" text-anchor="start" fill="#111" class="dim" textLength="14.8" lengthAdjust="spacingAndGlyphs" >60</text>
<line x1="306.30" y1="210.60" x2="306.30" y2="236.00" stroke="#111" stroke-width="1.0" stroke-linecap="butt"/>
<line x1="548.80" y1="210.60" x2="548.80" y2="236.00" stroke="#111" stroke-width="1.0" stroke-linecap="butt"/>
<line x1="306.30" y1="229.80" x2="548.80" y2="229.80" stroke="#111" stroke-width="1.0" stroke-linecap="butt"/>
<polygon points="306.30,229.80 317.80,227.65 317.80,231.95" fill="#111"/>
<polygon points="548.80,229.80 537.30,231.95 537.30,227.65" fill="#111"/>
<text transform="translate(432.00,226.30) rotate(0)" font-size="16.4" text-anchor="start" fill="#111" class="dim" textLength="23.6" lengthAdjust="spacingAndGlyphs" >800</text>
<line x1="640.50" y1="230.20" x2="692.00" y2="230.20" stroke="#111" stroke-width="1.0" stroke-linecap="butt"/>
<polygon points="658.60,230.20 647.10,232.35 647.10,228.05" fill="#111"/>
<polygon points="661.30,230.20 672.80,228.05 672.80,232.35" fill="#111"/>
<text transform="translate(683.50,226.30) rotate(0)" font-size="16.4" text-anchor="start" fill="#111" class="dim" textLength="7.4" lengthAdjust="spacingAndGlyphs" >5</text>
<line x1="43.00" y1="284.70" x2="80.00" y2="284.70" stroke="#111" stroke-width="1.0" stroke-linecap="butt"/>
<line x1="43.00" y1="375.00" x2="92.00" y2="375.00" stroke="#111" stroke-width="1.0" stroke-linecap="butt"/>
<line x1="63.00" y1="356.90" x2="80.00" y2="356.90" stroke="#111" stroke-width="1.0" stroke-linecap="butt"/>
<line x1="47.20" y1="284.70" x2="47.20" y2="375.00" stroke="#111" stroke-width="1.0" stroke-linecap="butt"/>
<polygon points="47.20,284.70 49.35,296.20 45.05,296.20" fill="#111"/>
<polygon points="47.20,375.00 45.05,363.50 49.35,363.50" fill="#111"/>
<line x1="69.50" y1="284.70" x2="69.50" y2="356.90" stroke="#111" stroke-width="1.0" stroke-linecap="butt"/>
<polygon points="69.50,284.70 71.65,296.20 67.35,296.20" fill="#111"/>
<polygon points="69.50,356.90 67.35,345.40 71.65,345.40" fill="#111"/>
<text transform="translate(44.20,340.00) rotate(-90)" font-size="16.4" text-anchor="start" fill="#111" class="dim" textLength="20.2" lengthAdjust="spacingAndGlyphs" >158</text>
<text transform="translate(66.60,337.60) rotate(-90)" font-size="16.4" text-anchor="start" fill="#111" class="dim" textLength="20.8" lengthAdjust="spacingAndGlyphs" >126</text>
<line x1="97.30" y1="241.00" x2="97.30" y2="411.00" stroke="#111" stroke-width="1.0" stroke-linecap="butt"/>
<line x1="138.80" y1="241.00" x2="138.80" y2="411.00" stroke="#111" stroke-width="1.0" stroke-linecap="butt"/>
<line x1="118.00" y1="262.00" x2="118.00" y2="384.00" stroke="#111" stroke-width="1.0" stroke-dasharray="16 3 3 3" stroke-linecap="butt"/>
<line x1="97.30" y1="246.20" x2="186.00" y2="246.20" stroke="#111" stroke-width="1.0" stroke-linecap="butt"/>
<polygon points="97.30,246.20 108.80,244.05 108.80,248.35" fill="#111"/>
<polygon points="138.80,246.20 127.30,248.35 127.30,244.05" fill="#111"/>
<text transform="translate(140.60,244.20) rotate(0)" font-size="16.4" text-anchor="start" fill="#111" class="dim" textLength="44" lengthAdjust="spacingAndGlyphs" ><tspan font-style="italic" font-size="18.5">ϕ</tspan>70D11</text>
<line x1="169.90" y1="262.00" x2="169.90" y2="299.00" stroke="#111" stroke-width="1.0" stroke-linecap="butt"/>
<line x1="118.00" y1="269.80" x2="188.00" y2="269.80" stroke="#111" stroke-width="1.0" stroke-linecap="butt"/>
<polygon points="118.00,269.80 129.50,267.65 129.50,271.95" fill="#111"/>
<polygon points="169.90,269.80 158.40,271.95 158.40,267.65" fill="#111"/>
<text transform="translate(172.00,266.40) rotate(0)" font-size="16.4" text-anchor="start" fill="#111" class="dim" textLength="15" lengthAdjust="spacingAndGlyphs" >90</text>
<line x1="154.70" y1="299.00" x2="154.70" y2="342.60" stroke="#111" stroke-width="1.0" stroke-linecap="butt"/>
<polygon points="154.70,299.00 156.85,310.50 152.55,310.50" fill="#111"/>
<polygon points="154.70,342.60 152.55,331.10 156.85,331.10" fill="#111"/>
<text transform="translate(152.30,329.80) rotate(-90)" font-size="16.4" text-anchor="start" fill="#111" class="dim" textLength="18" lengthAdjust="spacingAndGlyphs" >76</text>
<line x1="71.00" y1="404.60" x2="139.00" y2="404.60" stroke="#111" stroke-width="1.0" stroke-linecap="butt"/>
<polygon points="97.30,404.60 108.80,402.45 108.80,406.75" fill="#111"/>
<polygon points="138.80,404.60 127.30,406.75 127.30,402.45" fill="#111"/>
<text transform="translate(71.80,401.60) rotate(0)" font-size="16.4" text-anchor="start" fill="#111" class="dim" textLength="23.5" lengthAdjust="spacingAndGlyphs" ><tspan font-style="italic" font-size="18.5">ϕ</tspan>73</text>
<line x1="101.00" y1="352.00" x2="157.50" y2="402.00" stroke="#111" stroke-width="1.0" stroke-linecap="butt"/>
<line x1="157.50" y1="402.00" x2="181.00" y2="402.00" stroke="#111" stroke-width="1.0" stroke-linecap="butt"/>
<polygon points="121.04,368.65 128.46,372.34 125.61,375.56" fill="#111"/>
<text transform="translate(158.50,398.30) rotate(0)" font-size="16.4" text-anchor="start" fill="#111" class="dim" textLength="21" lengthAdjust="spacingAndGlyphs" ><tspan font-style="italic" font-size="18.5">ϕ</tspan>18</text>
<line x1="283.90" y1="279.00" x2="283.90" y2="362.60" stroke="#111" stroke-width="1.0" stroke-linecap="butt"/>
<polygon points="283.90,279.00 286.05,290.50 281.75,290.50" fill="#111"/>
<polygon points="283.90,362.60 281.75,351.10 286.05,351.10" fill="#111"/>
<text transform="translate(280.60,330.80) rotate(-90)" font-size="16.4" text-anchor="start" fill="#111" class="dim" textLength="28.4" lengthAdjust="spacingAndGlyphs" ><tspan font-style="italic" font-size="18.5">ϕ</tspan>145</text>
<line x1="339.20" y1="250.00" x2="339.20" y2="345.00" stroke="#111" stroke-width="1.0" stroke-linecap="butt"/>
<polygon points="339.20,314.00 337.05,302.50 341.35,302.50" fill="#111"/>
<polygon points="339.20,328.00 341.35,339.50 337.05,339.50" fill="#111"/>
<text transform="translate(336.80,274.60) rotate(-90)" font-size="16.4" text-anchor="start" fill="#111" class="dim" textLength="23.4" lengthAdjust="spacingAndGlyphs" ><tspan font-style="italic" font-size="18.5">ϕ</tspan>22</text>
<line x1="300.00" y1="403.20" x2="413.20" y2="403.20" stroke="#111" stroke-width="1.0" stroke-linecap="butt"/>
<line x1="413.20" y1="403.20" x2="413.20" y2="363.00" stroke="#111" stroke-width="1.0" stroke-linecap="butt"/>
<polygon points="413.20,362.60 415.35,374.10 411.05,374.10" fill="#111"/>
<text transform="translate(304.60,400.40) rotate(0)" font-size="15" text-anchor="start" fill="#111" class="dim" textLength="103" lengthAdjust="spacingAndGlyphs" >Место маркировки</text>
<line x1="500.60" y1="287.80" x2="543.40" y2="279.00" stroke="#111" stroke-width="1.0" stroke-linecap="butt"/>
<line x1="500.60" y1="306.40" x2="550.40" y2="316.30" stroke="#111" stroke-width="1.0" stroke-linecap="butt"/>
<line x1="499.90" y1="287.80" x2="531.50" y2="287.80" stroke="#111" stroke-width="1.0" stroke-linecap="butt"/>
<line x1="499.90" y1="306.60" x2="531.50" y2="306.60" stroke="#111" stroke-width="1.0" stroke-linecap="butt"/>
<line x1="499.90" y1="297.30" x2="581.00" y2="297.30" stroke="#111" stroke-width="1.0" stroke-linecap="butt"/>
<path d="M538.3,263.5 L543.91,278.84 A56.7,56.7 0 0 1 544.04,315.38" fill="none" stroke="#111" stroke-width="1.0" stroke-linejoin="round" />
<polygon points="544.07,279.31 548.41,288.57 544.22,289.54" fill="#111"/>
<polygon points="544.16,315.01 544.32,304.78 548.51,305.75" fill="#111"/>
<line x1="538.30" y1="263.50" x2="562.00" y2="263.50" stroke="#111" stroke-width="1.0" stroke-linecap="butt"/>
<text transform="translate(539.50,259.20) rotate(0)" font-size="16.4" text-anchor="start" fill="#111" class="dim" textLength="20.5" lengthAdjust="spacingAndGlyphs" >24°</text>
<line x1="524.90" y1="271.00" x2="524.90" y2="422.00" stroke="#111" stroke-width="1.0" stroke-linecap="butt"/>
<polygon points="524.90,287.80 522.75,277.80 527.05,277.80" fill="#111"/>
<polygon points="524.90,306.60 527.05,316.60 522.75,316.60" fill="#111"/>
<text transform="translate(522.40,411.50) rotate(-90)" font-size="16.4" text-anchor="start" fill="#111" class="dim" textLength="36.6" lengthAdjust="spacingAndGlyphs" ><tspan font-style="italic" font-size="18.5">ϕ</tspan>30×2</text>
<text transform="translate(539.60,420.80) rotate(-90)" font-size="15" text-anchor="start" fill="#111" class="dim" textLength="55.6" lengthAdjust="spacingAndGlyphs" >2 резьбы</text>
<line x1="573.80" y1="297.40" x2="573.80" y2="344.20" stroke="#111" stroke-width="1.0" stroke-linecap="butt"/>
<polygon points="573.80,297.40 575.95,308.90 571.65,308.90" fill="#111"/>
<polygon points="573.80,344.20 571.65,332.70 575.95,332.70" fill="#111"/>
<line x1="526.00" y1="344.20" x2="581.00" y2="344.20" stroke="#111" stroke-width="1.0" stroke-linecap="butt"/>
<text transform="translate(570.80,328.30) rotate(-90)" font-size="16.4" text-anchor="start" fill="#111" class="dim" textLength="15.4" lengthAdjust="spacingAndGlyphs" >80</text>
<line x1="700.00" y1="302.40" x2="733.00" y2="302.40" stroke="#111" stroke-width="1.0" stroke-linecap="butt"/>
<line x1="700.00" y1="338.90" x2="733.00" y2="338.90" stroke="#111" stroke-width="1.0" stroke-linecap="butt"/>
<line x1="724.30" y1="302.40" x2="724.30" y2="338.90" stroke="#111" stroke-width="1.0" stroke-linecap="butt"/>
<polygon points="724.30,302.40 726.45,311.40 722.15,311.40" fill="#111"/>
<polygon points="724.30,338.90 722.15,329.90 726.45,329.90" fill="#111"/>
<text transform="translate(721.60,329.50) rotate(-90)" font-size="16.4" text-anchor="start" fill="#111" class="dim" textLength="17" lengthAdjust="spacingAndGlyphs" >65</text>
<line x1="638.10" y1="339.00" x2="638.10" y2="388.00" stroke="#111" stroke-width="1.0" stroke-linecap="butt"/>
<line x1="678.80" y1="339.00" x2="678.80" y2="388.00" stroke="#111" stroke-width="1.0" stroke-linecap="butt"/>
<line x1="638.10" y1="381.00" x2="706.00" y2="381.00" stroke="#111" stroke-width="1.0" stroke-linecap="butt"/>
<polygon points="638.10,381.00 649.60,378.85 649.60,383.15" fill="#111"/>
<polygon points="678.80,381.00 667.30,383.15 667.30,378.85" fill="#111"/>
<text transform="translate(681.40,378.20) rotate(0)" font-size="16.4" text-anchor="start" fill="#111" class="dim" textLength="24.6" lengthAdjust="spacingAndGlyphs" ><tspan font-style="italic" font-size="18.5">ϕ</tspan>70</text>
<line x1="465.20" y1="355.00" x2="465.20" y2="446.00" stroke="#111" stroke-width="1.0" stroke-linecap="butt"/>
<line x1="465.20" y1="439.40" x2="659.20" y2="439.40" stroke="#111" stroke-width="1.0" stroke-linecap="butt"/>
<polygon points="465.20,439.40 476.70,437.25 476.70,441.55" fill="#111"/>
<polygon points="659.20,439.40 647.70,441.55 647.70,437.25" fill="#111"/>
<text transform="translate(558.80,435.20) rotate(0)" font-size="16.4" text-anchor="start" fill="#111" class="dim" textLength="21" lengthAdjust="spacingAndGlyphs" >338</text>
</svg>
</div></body></html>
